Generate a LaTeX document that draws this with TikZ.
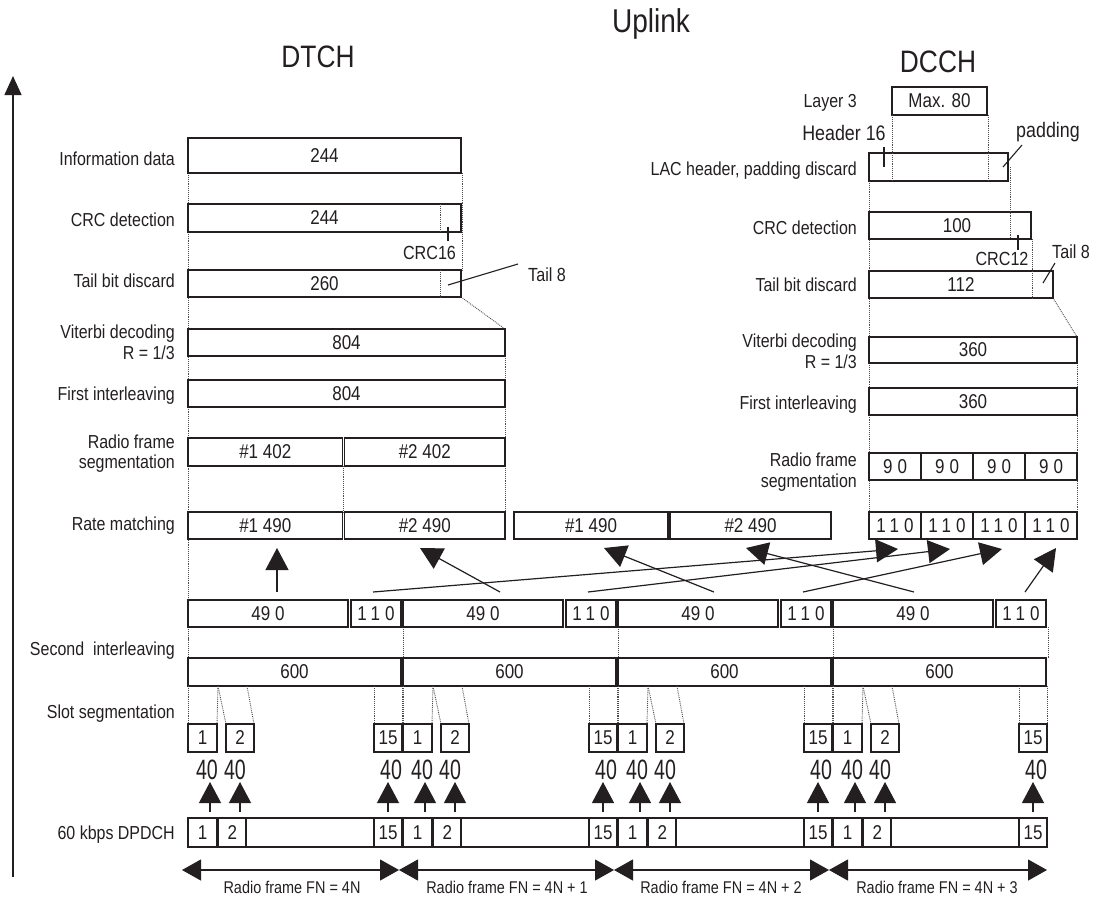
\documentclass[tikz,border=0pt]{standalone}
\usepackage{fontspec}
\setmainfont{Liberation Sans}[FakeStretch=0.85]
\usetikzlibrary{arrows.meta}
\newcommand\myfs[1]{\fontsize{#1pt}{#1pt}\selectfont}
\newcommand\lsp[1]{{\addfontfeature{LetterSpace=25}#1}}
\definecolor{ink}{HTML}{231F20}
\newcommand\mkbox[7][]{%
  \pgfmathsetmacro\mkW{(#5)-(#3)}%
  \pgfmathsetmacro\mkH{(#6)-(#4)}%
  \pgfmathsetmacro\mkX{((#3)+(#5))/2}%
  \pgfmathsetmacro\mkY{((#4)+(#6))/2}%
  \node[bx,minimum width=\mkW pt,minimum height=\mkH pt,#1] (#2) at (\mkX,\mkY) {#7};}
\begin{document}
\begin{tikzpicture}[x=1pt,y=-1pt,
  every node/.style={text=ink},
  bx/.style={draw=ink,line width=1.3pt,fill=white,inner sep=0pt,outer sep=0pt,font=\myfs{20}},
  lb/.style={anchor=base east,inner sep=0pt,font=\myfs{18.8}},
  tx/.style={anchor=base,inner sep=0pt,font=\myfs{19}},
  dl/.style={draw=ink!80,densely dotted,line width=0.9pt},
  tk/.style={draw=ink,line width=1.1pt},
  ar/.style={draw=ink,line width=1.2pt,-{Triangle[length=22pt,width=23pt]}},
  sar/.style={draw=ink,line width=1.2pt,-{Triangle[length=21pt,width=22pt]}},
  rar/.style={draw=ink,line width=1.2pt,{Triangle[length=19pt,width=21pt]}-{Triangle[length=19pt,width=21pt]}}]
\useasboundingbox (0,0) rectangle (1095,898);
% titles
\node[anchor=base,font=\myfs{33},inner sep=0pt] (uplink) at (651,32) {Uplink};
\node[anchor=base,font=\myfs{31},inner sep=0pt] (dtch) at (318,67) {DTCH};
\node[anchor=base,font=\myfs{31},inner sep=0pt] (dcch) at (938,72) {DCCH};
% axis
\coordinate (axb) at (13,877); \coordinate (axt) at (13,76);
\draw[draw=ink,line width=1.3pt,-{Triangle[length=19pt,width=17pt]}] (axb) -- (axt);
% background dotted guides
\draw[dl] (188,173) -- (188,724);
\draw[dl] (462,173) -- (462,270);
\draw[dl] (461,297) -- (505,329);
\draw[dl] (505,356) -- (505,512);
\draw[dl] (343.5,466) -- (343.5,512);
\draw[dl] (869,181) -- (869,512);
\draw[dl] (1053,298) -- (1077,337);
\draw[dl] (1077,363) -- (1077,512);
\foreach \x in {188,403,618,833,1048} \draw[dl] (\x,627) -- (\x,658);
% DTCH boxes
\mkbox{info}{188}{138}{461}{173}{244}
\mkbox{crc}{188}{204}{461}{232}{244}
\mkbox{tail}{188}{270}{461}{297}{260}
\mkbox{vit}{188}{329}{505}{356}{804}
\mkbox{fint}{188}{380}{505}{407}{804}
\mkbox{seg1}{188}{438}{342.5}{466}{\#1 402}
\mkbox{seg2}{344.5}{438}{505}{466}{\#2 402}
\mkbox{rm1}{188}{512}{342.5}{539}{\#1 490}
\mkbox{rm2}{344.5}{512}{505}{539}{\#2 490}
\mkbox{rm3}{514}{512}{668}{539}{\#1 490}
\mkbox{rm4}{670}{512}{831}{539}{\#2 490}
% DCCH boxes
\mkbox{lay}{892}{87}{987}{115}{Max. 80}
\mkbox{lac}{869}{153}{1008}{181}{}
\mkbox{ccrc}{869}{212}{1031}{239}{\hspace*{14pt}\raisebox{-3pt}{100}}
\mkbox{ctail}{869}{271}{1053}{298}{\raisebox{-2pt}{112}}
\mkbox{cvit}{869}{337}{1077}{363}{360}
\mkbox{cfint}{869}{388}{1077}{415}{360}
\foreach \x [count=\k] in {869,921,973,1025}{
  \mkbox{cs\k}{\x}{453}{\x+52}{480}{\lsp{90}}
  \mkbox{cr\k}{\x}{512}{\x+52}{539}{\lsp{110}}
}
% internal dotted
\draw[dl] (440,204) -- (440,232);
\draw[dl] (440,270) -- (440,297);
\draw[dl] (892,115) -- (892,181);
\draw[dl] (988,115) -- (988,181);
\draw[dl] (1010,167) -- (1010,239);
\draw[dl] (1032,239) -- (1032,298);
% annotations DTCH
\draw[tk] (448,227) -- (448,241);
\node[tx] (crc16) at (429.5,259) {CRC16};
\node[tx,anchor=base west] (tail8a) at (528,281) {Tail 8};
\coordinate (t8a) at (448,285); \coordinate (t8b) at (518,264);
\draw[tk] (t8a) -- (t8b);
% annotations DCCH
\draw[tk] (884,147) -- (884,167);
\node[tx,font=\myfs{21}] (hdr) at (844,140) {Header 16};
\node[tx,font=\myfs{21}] (pad) at (1048,137) {padding};
\coordinate (pda) at (1003,167); \coordinate (pdb) at (1022,145);
\draw[tk] (pda) -- (pdb);
\draw[tk] (1018,235) -- (1018,250);
\node[tx] (crc12) at (1002,265) {CRC12};
\coordinate (t8c) at (1043,283); \coordinate (t8d) at (1055,263);
\draw[tk] (t8c) -- (t8d);
\node[tx,anchor=base west] (tail8b) at (1052,258) {Tail 8};
% labels DTCH
\node[lb] (l1) at (175,165) {Information data};
\node[lb] (l2) at (175,226) {CRC detection};
\node[lb] (l3) at (175,287) {Tail bit discard};
\node[lb] (l4a) at (175,338) {Viterbi decoding};
\node[lb] (l4b) at (175,359) {R = 1/3};
\node[lb] (l5) at (175,400) {First interleaving};
\node[lb] (l6a) at (175,448) {Radio frame};
\node[lb] (l6b) at (175,468) {segmentation};
\node[lb] (l7) at (175,530) {Rate matching};
\node[lb] (l8) at (175,655) {Second~~interleaving};
\node[lb] (l9) at (175,718) {Slot segmentation};
\node[lb] (l10) at (175,839) {60 kbps DPDCH};
% labels DCCH
\node[lb] (m1) at (857,107) {Layer 3};
\node[lb] (m2) at (857,175) {LAC header, padding discard};
\node[lb] (m3) at (857,234) {CRC detection};
\node[lb] (m4) at (857,291) {Tail bit discard};
\node[lb] (m5a) at (857,347) {Viterbi decoding};
\node[lb] (m5b) at (857,368) {R = 1/3};
\node[lb] (m6) at (857,409) {First interleaving};
\node[lb] (m7a) at (857,466) {Radio frame};
\node[lb] (m7b) at (857,487) {segmentation};
% frames
\foreach \F [count=\i] in {188,403,618,833}{
  \mkbox{ra\i}{\F}{600}{\F+160}{627}{49 0}
  \mkbox{rb\i}{\F+163}{600}{\F+213}{627}{\lsp{110}}
  \mkbox{sx\i}{\F}{658}{\F+213}{686}{600}
  \draw[dl] (\F,686) -- (\F,724);
  \draw[dl] (\F+30,686) -- (\F+29,724);
  \draw[dl] (\F+30,686) -- (\F+38,724);
  \draw[dl] (\F+59,686) -- (\F+66,724);
  \draw[dl] (\F+186,686) -- (\F+186,724);
  \draw[dl] (\F+214,686) -- (\F+214,724);
  \mkbox{sa\i}{\F}{724}{\F+29}{752}{1}
  \mkbox{sb\i}{\F+38}{724}{\F+66}{752}{2}
  \mkbox{sc\i}{\F+186}{724}{\F+214}{752}{15}
  \foreach \ox/\lx [count=\j] in {22/19,52/47,200/203}{
    \coordinate (ub\i\j) at (\F+\ox,782);
    \coordinate (db\i\j) at (\F+\ox,812);
    \draw[sar] (db\i\j) -- (ub\i\j);
    \node[tx,font={\myfs{28}\addfontfeature{FakeStretch=0.7}}] (ft\i\j) at (\F+\lx,779) {40};
  }
  \mkbox[fill=none]{pa\i}{\F}{818}{\F+29}{847}{1}
  \mkbox[fill=none]{pb\i}{\F+30.5}{818}{\F+58}{847}{2}
  \mkbox[fill=none]{pc\i}{\F+186}{818}{\F+214}{847}{15}
  \mkbox[fill=none,line width=2.5pt]{pf\i}{\F}{818}{\F+214}{847}{}
}
% crossing arrows
\coordinate (a1s) at (277,592); \coordinate (a1e) at (277,548);
\coordinate (a2s) at (500,592); \coordinate (a2e) at (420,548);
\coordinate (a3s) at (714,592); \coordinate (a3e) at (604,548);
\coordinate (a4s) at (914,592); \coordinate (a4e) at (746,548);
\coordinate (a5s) at (373,592); \coordinate (a5e) at (898,549);
\coordinate (a6s) at (588,592); \coordinate (a6e) at (950,549);
\coordinate (a7s) at (803,592); \coordinate (a7e) at (1002,549);
\coordinate (a8s) at (1025,592); \coordinate (a8e) at (1056,548);
\foreach \n in {1,...,8} \draw[ar] (a\n s) -- (a\n e);
% radio frame arrows
\coordinate (rp0) at (182,870); \coordinate (rp1) at (399,870);
\coordinate (rp2) at (614,870); \coordinate (rp3) at (829,870);
\coordinate (rp4) at (1047,870);
\draw[rar] (rp0) -- (rp1);
\draw[rar] (rp1) -- (rp2);
\draw[rar] (rp2) -- (rp3);
\draw[rar] (rp3) -- (rp4);
\node[tx,font=\myfs{17}] (rf1) at (292,893) {Radio frame FN = 4N};
\node[tx,font=\myfs{17}] (rf2) at (507,893) {Radio frame FN = 4N + 1};
\node[tx,font=\myfs{17}] (rf3) at (721,893) {Radio frame FN = 4N + 2};
\node[tx,font=\myfs{17}] (rf4) at (937,893) {Radio frame FN = 4N + 3};
\end{tikzpicture}
\end{document}
